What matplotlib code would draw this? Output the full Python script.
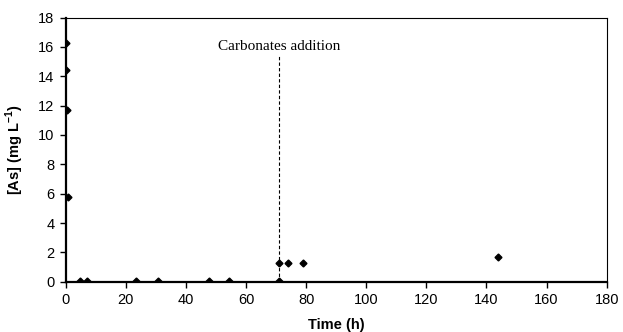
import matplotlib
matplotlib.use('Agg')
import matplotlib.pyplot as plt

# Arsenic concentration over time
time_h = [0, 0, 0.3, 0.9, 4.8, 7.2, 23.4, 30.7, 47.6, 54.2, 71.1, 71.1, 73.8, 79.1, 144]
as_mg = [16.3, 14.4, 11.7, 5.8, 0.05, 0.02, 0.02, 0.02, 0.02, 0.02, 0.02, 1.25, 1.3, 1.25, 1.65]

addition_time = 71
addition_label = 'Carbonates addition'

plt.rcParams['font.family'] = ['Liberation Sans', 'DejaVu Sans']
plt.rcParams['mathtext.fontset'] = 'custom'
plt.rcParams['mathtext.rm'] = 'Liberation Sans'
plt.rcParams['mathtext.bf'] = 'Liberation Sans:bold'

fig = plt.figure(figsize=(6.23, 3.32), dpi=100)
ax = fig.add_axes([0.1055, 0.1515, 0.8683, 0.7955])

ax.plot(time_h, as_mg, linestyle='none', marker='D', markersize=3.5, color='black')

# dashed marker for the carbonates addition
ax.plot([addition_time, addition_time], [0, 15.45], linestyle='--', color='black', linewidth=0.8, dashes=(3, 2))
ax.text(addition_time, 16.0, addition_label, ha='center', va='center',
        fontsize=11, family=['Liberation Serif', 'DejaVu Serif'])

ax.set_xlim(0, 180)
ax.set_ylim(0, 18)
ax.set_xticks(range(0, 181, 20))
ax.set_yticks(range(0, 19, 2))
ax.tick_params(direction='out', length=4, width=1, labelsize=10.5, pad=4)

ax.set_xlabel('Time (h)', fontsize=10.5, fontweight='bold', labelpad=8)
ax.set_ylabel(r'[As] (mg L$^{\mathbf{-1}}$)', fontsize=10.5, fontweight='bold', labelpad=9)

ax.spines['left'].set_linewidth(1.6)
ax.spines['bottom'].set_linewidth(1.6)
ax.spines['top'].set_linewidth(0.8)
ax.spines['right'].set_linewidth(0.8)

fig.savefig('out.png', dpi=100)
